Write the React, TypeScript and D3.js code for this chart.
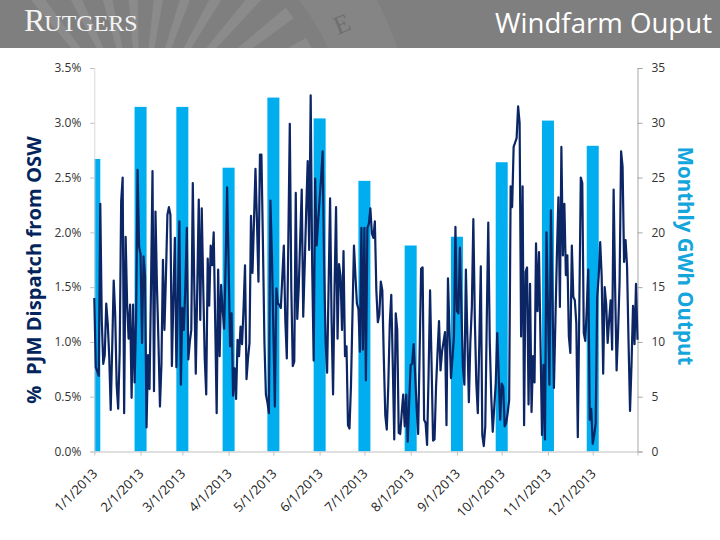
import { useEffect, useRef } from "react";
import * as d3 from "d3";

const width = 720;
const height = 540;

// tick labels
const pctTicks = [0, 0.5, 1, 1.5, 2, 2.5, 3, 3.5];
const gwhTicks = [0, 5, 10, 15, 20, 25, 30, 35];
const monthLabels = [
  "1/1/2013", "2/1/2013", "3/1/2013", "4/1/2013", "5/1/2013", "6/1/2013",
  "7/1/2013", "8/1/2013", "9/1/2013", "10/1/2013", "11/1/2013", "12/1/2013",
];

// monthly output (GWh)
const monthlyGwh = [26.7, 31.45, 31.45, 25.9, 32.3, 30.4, 24.7, 18.8, 19.6, 26.4, 30.2, 27.9];

// daily % of PJM dispatch
const dailyPct = [
  1.4, 0.77, 0.73, 0.69, 2.26, 1.2, 0.8, 0.88, 1.35, 1.17,
  0.87, 0.38, 0.95, 1.56, 1.25, 0.6, 0.39, 0.9, 2.28, 2.5,
  0.35, 1.96, 1.34, 1.03, 1.34, 0.49, 1.34, 0.63, 1.2, 2.57,
  1.87, 1.8, 0.99, 1.78, 1.6, 0.22, 0.88, 0.57, 1.5, 2.56,
  0.55, 2.19, 1.5, 1.0, 0.41, 0.8, 1.75, 1.11, 1.6, 2.16,
  2.23, 2.16, 0.78, 1.4, 1.95, 0.77, 1.4, 2.1, 0.61, 1.31,
  1.11, 1.5, 2.04, 0.84, 1.0, 1.11, 2.45, 1.5, 0.71, 1.5,
  2.3, 1.2, 2.22, 1.5, 0.85, 0.52, 1.76, 1.33, 1.88, 1.7,
  2.0, 1.2, 0.35, 1.66, 0.87, 1.52, 1.3, 1.12, 1.7, 2.41,
  1.7, 0.96, 1.26, 0.51, 0.76, 0.48, 1.02, 0.87, 1.14, 0.98,
  1.3, 1.7, 0.66, 0.85, 0.99, 2.15, 1.63, 2.1, 2.58, 2.1,
  1.55, 2.71, 2.71, 1.9, 1.0, 0.52, 0.45, 0.35, 2.29, 1.8,
  1.1, 0.41, 1.49, 1.35, 1.34, 1.31, 1.6, 1.88, 1.2, 0.85,
  1.9, 2.99, 1.5, 0.78, 0.82, 2.36, 1.21, 1.5, 1.95, 2.39,
  1.23, 1.7, 2.2, 2.65, 1.84, 3.25, 1.7, 0.83, 2.49, 1.88,
  2.1, 2.3, 2.5, 2.74, 1.7, 1.0, 0.72, 1.5, 2.31, 1.2,
  0.52, 1.5, 2.23, 1.03, 1.71, 1.6, 1.11, 1.83, 0.87, 0.96,
  0.24, 0.21, 0.6, 1.25, 1.88, 1.6, 1.35, 1.3, 0.91, 2.04,
  0.93, 2.04, 0.65, 2.04, 2.08, 2.22, 1.99, 1.95, 2.1, 1.47,
  1.18, 1.25, 1.55, 1.47, 0.85, 0.33, 0.2, 0.6, 1.17, 1.43,
  0.8, 0.11, 1.26, 1.11, 0.17, 0.16, 0.35, 0.52, 0.23, 0.52,
  0.09, 0.45, 0.79, 0.8, 0.98, 0.7, 0.4, 0.16, 0.9, 1.67,
  1.68, 0.29, 0.26, 0.06, 0.7, 1.47, 0.8, 0.1, 0.11, 0.59,
  0.9, 1.19, 0.74, 0.91, 1.0, 1.09, 0.24, 1.58, 1.1, 0.67,
  0.85, 1.05, 2.05, 1.28, 1.26, 1.86, 1.3, 0.77, 0.61, 1.66,
  1.05, 0.45, 1.0, 1.32, 2.12, 1.2, 0.62, 0.35, 1.0, 1.69,
  0.15, 0.05, 0.23, 1.2, 2.09, 1.0, 0.5, 0.18, 0.4, 0.62,
  1.08, 0.7, 0.29, 0.62, 0.59, 0.23, 0.26, 0.35, 0.47, 2.42,
  2.23, 2.78, 2.82, 2.86, 3.15, 3.0, 1.05, 2.42, 0.24, 1.64,
  1.68, 0.43, 1.53, 0.36, 0.87, 0.63, 1.9, 1.28, 1.82, 1.0,
  0.15, 0.79, 0.11, 2.0, 1.3, 0.61, 2.2, 1.4, 0.58, 1.2,
  1.8, 2.32, 1.32, 2.78, 1.79, 2.26, 1.61, 1.79, 1.05, 0.9,
  1.88, 1.41, 1.38, 1.17, 0.13, 1.3, 2.5, 2.45, 1.08, 1.01,
  1.3, 1.66, 0.29, 0.39, 0.07, 0.15, 0.26, 1.41, 1.6, 1.91,
  1.6, 0.71, 1.5, 1.35, 0.99, 1.2, 1.38, 0.93, 2.39, 1.5,
  0.74, 1.1, 1.55, 2.74, 2.6, 1.73, 1.93, 1.69, 1.0, 0.37,
  0.8, 1.33, 0.98, 1.53, 1.02,
];

// the faded seal behind the header, degrees clockwise from straight up
const sealRays = [-38, -26, -14, -3, 8, 19, 30, 41, 52, 63];

const font = "'Open Sans', sans-serif";

export default function App() {
  const svgRef = useRef<SVGSVGElement | null>(null);

  useEffect(() => {
    if (!svgRef.current) return;
    const svg = d3.select(svgRef.current);
    svg.selectAll("*").remove();

    const margin = { top: 68, right: 82.5, bottom: 88.5, left: 94.3 };
    const innerW = width - margin.left - margin.right;
    const innerH = height - margin.top - margin.bottom;

    const start = new Date(2013, 0, 1);
    const end = new Date(2013, 11, 31);
    const x = d3.scaleTime().domain([start, end]).range([0, innerW]);
    const yPct = d3.scaleLinear().domain([0, 3.5]).range([innerH, 0]);
    const yGwh = d3.scaleLinear().domain([0, 35]).range([innerH, 0]);
    const months = monthLabels.map((_, i) => new Date(2013, i, 1));

    // header band
    const defs = svg.append("defs");
    defs.append("clipPath").attr("id", "head").append("rect")
      .attr("width", width).attr("height", 48);
    defs.append("clipPath").attr("id", "plot").append("rect")
      .attr("width", innerW).attr("height", innerH);

    const head = svg.append("g").attr("clip-path", "url(#head)");
    head.append("rect").attr("width", width).attr("height", 48).attr("fill", "#7f7f7f");

    const seal = head.append("g").attr("transform", "translate(140,130)");
    const rad = (deg: number) => (deg * Math.PI) / 180;
    const ray = d3.arc<number>()
      .innerRadius(40)
      .outerRadius(190)
      .startAngle((d) => rad(d - 2))
      .endAngle((d) => rad(d + 2));
    seal.selectAll("path.ray").data(sealRays).join("path")
      .attr("class", "ray")
      .attr("d", ray)
      .attr("fill", "#8b8b8b");
    const ring = d3.arc()({
      innerRadius: 205,
      outerRadius: 270,
      startAngle: rad(-60),
      endAngle: rad(85),
    });
    seal.append("path").attr("d", ring).attr("fill", "#858585");

    head.append("text")
      .attr("transform", "translate(345,32) rotate(-22)")
      .attr("text-anchor", "middle")
      .attr("font-family", "'Liberation Serif', serif")
      .attr("font-size", 26)
      .attr("fill", "#6f6f6f")
      .text("E");

    const logo = head.append("text")
      .attr("x", 24)
      .attr("y", 31)
      .attr("font-family", "'Liberation Serif', serif")
      .attr("fill", "#f4f4f4")
      .attr("font-size", 24);
    logo.append("tspan").attr("font-size", 32).text("R");
    logo.append("tspan").attr("dx", -1).text("UTGERS");

    head.append("text")
      .attr("x", 712)
      .attr("y", 33)
      .attr("text-anchor", "end")
      .attr("font-family", font)
      .attr("font-size", 27.6)
      .attr("fill", "#fff")
      .text("Windfarm Ouput");

    const g = svg.append("g").attr("transform", `translate(${margin.left},${margin.top})`);

    // bars, first one is cut by the left axis
    g.append("g")
      .attr("clip-path", "url(#plot)")
      .selectAll("rect")
      .data(monthlyGwh)
      .join("rect")
      .attr("x", (_, i) => x(months[i]) - 6)
      .attr("width", 12)
      .attr("y", (d) => yGwh(d))
      .attr("height", (d) => innerH - yGwh(d))
      .attr("fill", "#00adef");

    // axes
    const leftAxis = g.append("g").call(
      d3.axisLeft(yPct).tickValues(pctTicks).tickSize(4).tickPadding(9)
        .tickFormat((d) => `${Number(d).toFixed(1)}%`)
    );
    leftAxis.select(".domain").attr("stroke", "#d9d9d9");
    leftAxis.selectAll("line").attr("stroke", "#bfbfbf");

    const rightAxis = g.append("g").attr("transform", `translate(${innerW},0)`).call(
      d3.axisRight(yGwh).tickValues(gwhTicks).tickSize(5).tickPadding(9)
    );
    rightAxis.select(".domain").attr("stroke", "#a6a6a6");
    rightAxis.selectAll("line").attr("stroke", "#a6a6a6");

    const bottomAxis = g.append("g").attr("transform", `translate(0,${innerH})`).call(
      d3.axisBottom(x).tickValues([...months, end]).tickSize(4).tickSizeOuter(0)
        .tickFormat((_, i) => monthLabels[i] ?? "")
    );
    bottomAxis.select(".domain").attr("stroke", "#bfbfbf");
    bottomAxis.selectAll("line").attr("stroke", "#bfbfbf");
    bottomAxis.selectAll("text")
      .attr("text-anchor", "end")
      .attr("transform", "translate(-3,16.5) rotate(-45)")
      .attr("y", 0)
      .attr("dy", "0.71em");

    [leftAxis, rightAxis].forEach((a) => {
      a.attr("font-family", font).attr("font-size", 12);
      a.selectAll("text").attr("fill", "#333");
    });
    bottomAxis.attr("font-family", font).attr("font-size", 13);
    bottomAxis.selectAll("text").attr("fill", "#222");

    // daily line
    const line = d3.line<number>()
      .x((_, i) => x(d3.timeDay.offset(start, i)))
      .y((d) => yPct(d));
    g.append("path")
      .datum(dailyPct)
      .attr("d", line)
      .attr("fill", "none")
      .attr("stroke", "#0b2565")
      .attr("stroke-width", 2.2)
      .attr("stroke-linejoin", "round");

    // axis titles
    svg.append("text")
      .attr("transform", "translate(41,270) rotate(-90)")
      .attr("text-anchor", "middle")
      .attr("font-family", font)
      .attr("font-weight", 700)
      .attr("font-size", 20.2)
      .attr("fill", "#04255c")
      .style("white-space", "pre")
      .text("%  PJM Dispatch from OSW");

    svg.append("text")
      .attr("transform", "translate(678,256) rotate(90)")
      .attr("text-anchor", "middle")
      .attr("font-family", font)
      .attr("font-weight", 700)
      .attr("font-size", 20.5)
      .attr("fill", "#14a5dc")
      .text("Monthly GWh Output");
  }, []);

  return (
    <svg
      ref={svgRef}
      width={width}
      height={height}
      style={{ position: "absolute", left: 0, top: 0, background: "#fff" }}
    />
  );
}
